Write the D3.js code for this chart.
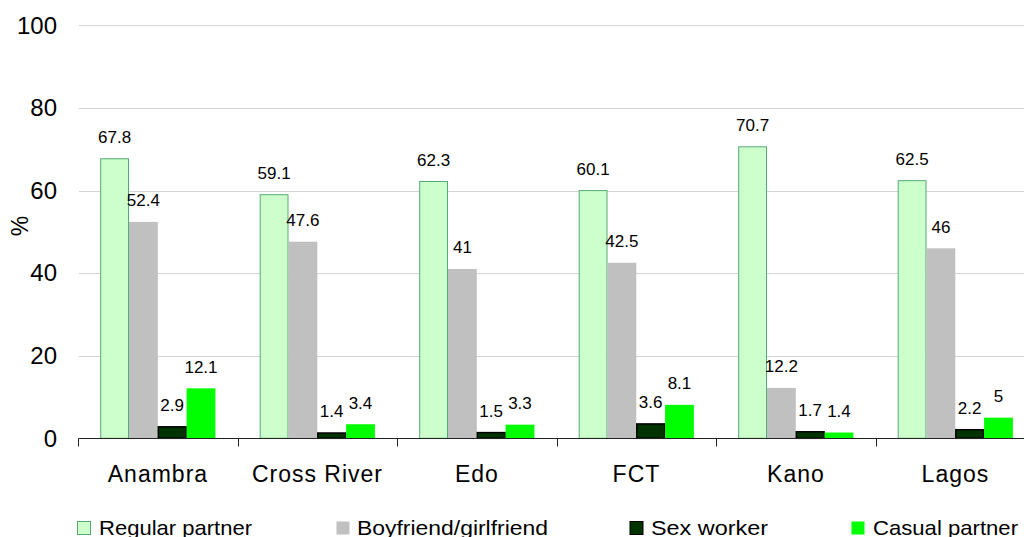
<!DOCTYPE html>
<html>
<head>
<meta charset="utf-8">
<script src="https://cdn.jsdelivr.net/npm/d3@7"></script>
<style>
  html, body { margin: 0; padding: 0; background: #fff; }
  svg { display: block; font-family: "Liberation Sans", Arial, sans-serif; }
</style>
</head>
<body>
<svg id="chart" width="1024" height="537"></svg>
<script>
const categories = ["Anambra", "Cross River", "Edo", "FCT", "Kano", "Lagos"];
const seriesNames = ["Regular partner", "Boyfriend/girlfriend", "Sex worker", "Casual partner"];
const regularPartner = [67.8, 59.1, 62.3, 60.1, 70.7, 62.5];
const boyfriendGirlfriend = [52.4, 47.6, 41, 42.5, 12.2, 46];
const sexWorker = [2.9, 1.4, 1.5, 3.6, 1.7, 2.2];
const casualPartner = [12.1, 3.4, 3.3, 8.1, 1.4, 5];
const yTicks = [0, 20, 40, 60, 80, 100];

const seriesValues = [regularPartner, boyfriendGirlfriend, sexWorker, casualPartner];
const fills = ["#ccffcc", "#c0c0c0", "#003300", "#00ff00"];
const strokes = ["#55aa77", "none", "#000000", "none"];

const svg = d3.select("#chart");

const x0 = d3.scaleBand().domain(categories).range([78.2, 1035.2]).padding(0);
const x1 = d3.scaleBand().domain(seriesNames).range([22, 137.2]).padding(0);
const y = d3.scaleLinear().domain([0, 100]).range([438.3, 25.3]);

// gridlines
svg.append("g").selectAll("line").data(yTicks.filter(d => d > 0)).join("line")
  .attr("x1", 79).attr("x2", 1035)
  .attr("y1", d => Math.round(y(d)) + 0.5).attr("y2", d => Math.round(y(d)) + 0.5)
  .attr("stroke", "#d4d4d4").attr("stroke-width", 1);

// y tick labels
svg.append("g").selectAll("text").data(yTicks).join("text")
  .attr("x", 57).attr("y", d => y(d) + 8.3)
  .attr("text-anchor", "end")
  .attr("font-size", 24)
  .attr("fill", "#000")
  .text(d => d);

// y title
svg.append("text")
  .attr("transform", "translate(28,226) rotate(-90)")
  .attr("text-anchor", "middle")
  .attr("font-size", 23)
  .text("%");

// bars
const rows = categories.map((c, i) => ({ cat: c, vals: seriesNames.map((s, j) => ({ s, j, v: seriesValues[j][i] })) }));
const groups = svg.append("g").selectAll("g").data(rows).join("g")
  .attr("transform", d => `translate(${x0(d.cat)},0)`);

groups.selectAll("rect").data(d => d.vals).join("rect")
  .attr("x", d => x1(d.s) + (strokes[d.j] !== "none" ? 0.5 : 0))
  .attr("y", d => y(d.v) + (strokes[d.j] !== "none" ? 0.5 : 0))
  .attr("width", d => x1.bandwidth() - (strokes[d.j] !== "none" ? 1 : 0))
  .attr("height", d => y(0) - y(d.v) - (strokes[d.j] !== "none" ? 0.5 : 0))
  .attr("fill", d => fills[d.j])
  .attr("stroke", d => strokes[d.j])
  .attr("stroke-width", d => d.j === 2 ? 1.5 : 1);

groups.selectAll("text").data(d => d.vals).join("text")
  .attr("x", d => x1(d.s) + x1.bandwidth() / 2)
  .attr("y", d => y(d.v) - 15.5)
  .attr("text-anchor", "middle")
  .attr("font-size", 17)
  .attr("fill", "#000")
  .text(d => d.v);

// x axis
const xAxisY = 438.5;
svg.append("line").attr("x1", 78.5).attr("x2", 1035).attr("y1", xAxisY).attr("y2", xAxisY)
  .attr("stroke", "#222").attr("stroke-width", 1);
const tickXs = categories.map(c => x0(c));
svg.append("g").selectAll("line").data(tickXs).join("line")
  .attr("x1", d => Math.round(d) + 0.5).attr("x2", d => Math.round(d) + 0.5)
  .attr("y1", xAxisY).attr("y2", xAxisY + 8)
  .attr("stroke", "#222").attr("stroke-width", 1);

svg.append("g").selectAll("text").data(categories).join("text")
  .attr("x", d => x0(d) + x0.bandwidth() / 2)
  .attr("y", 481.7)
  .attr("text-anchor", "middle")
  .attr("font-size", 23)
  .attr("letter-spacing", 1)
  .text(d => d);

// legend
const legendX = [77, 336, 629.5, 851];
const legendTextX = [99, 357, 651, 873];
const legendW = [153, 191, 117, 145];
const leg = svg.append("g").selectAll("g").data(seriesNames).join("g");
leg.append("rect")
  .attr("x", (d, i) => legendX[i] + 0.5).attr("y", 521.5)
  .attr("width", 13).attr("height", 13)
  .attr("fill", (d, i) => fills[i])
  .attr("stroke", (d, i) => strokes[i]);
leg.append("text")
  .attr("x", (d, i) => legendTextX[i]).attr("y", 534.5)
  .attr("font-size", 21)
  .attr("textLength", (d, i) => legendW[i])
  .attr("lengthAdjust", "spacingAndGlyphs")
  .text(d => d);
</script>
</body>
</html>
